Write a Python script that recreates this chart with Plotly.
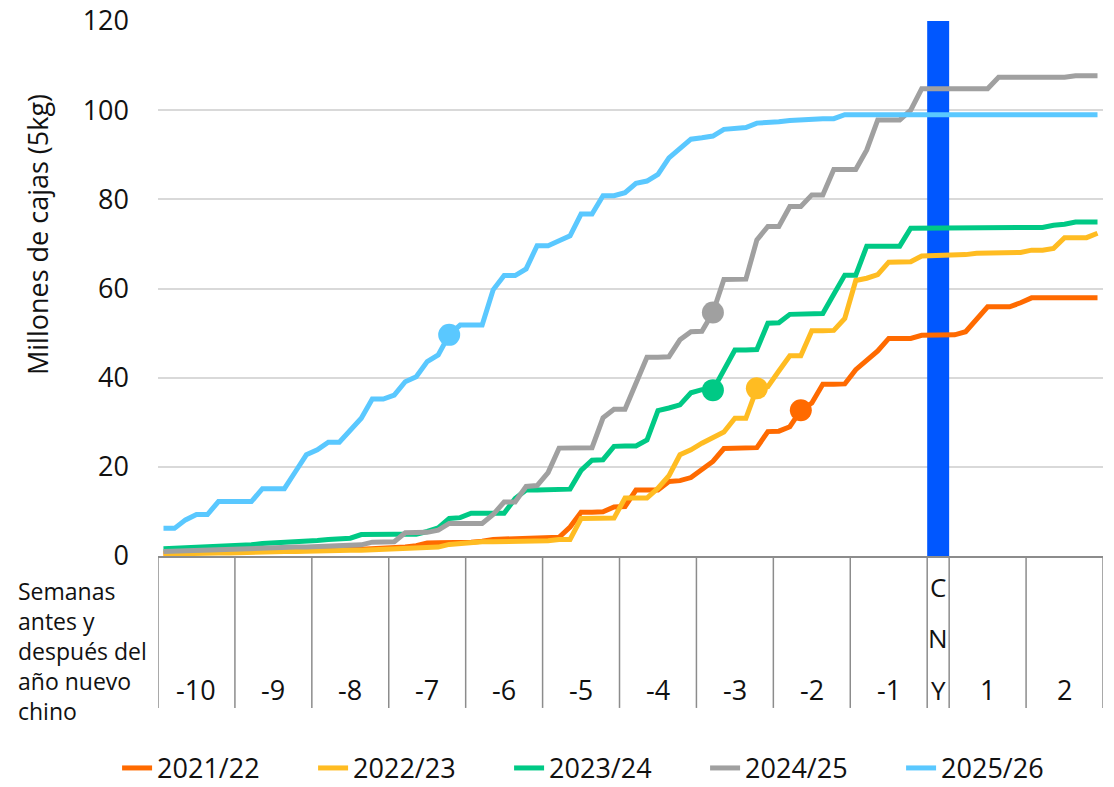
import plotly.graph_objects as go

# ---------------- data ----------------
week_labels = ["-10", "-9", "-8", "-7", "-6", "-5", "-4", "-3", "-2", "-1", "CNY", "1", "2"]
days_per_week = [7, 7, 7, 7, 7, 7, 7, 7, 7, 7, 2, 7, 7]

series_names = ["2021/22", "2022/23", "2023/24", "2024/25", "2025/26"]

s2021_22 = [0.6, 0.7, 0.7, 0.8, 0.8, 0.9, 0.9, 1.0, 1.0, 1.1,
            1.1, 1.2, 1.2, 1.3, 1.3, 1.4, 1.4, 1.5, 1.5, 1.6,
            1.7, 1.8, 2.0, 2.3, 2.9, 3.0, 3.0, 3.1, 3.1, 3.3,
            3.7, 3.8, 3.9, 4.0, 4.0, 4.1, 4.2, 6.5, 9.8, 9.8,
            9.9, 11.0, 11.1, 14.8, 14.8, 14.8, 16.7, 16.9, 17.6, 19.3,
            21.2, 24.1, 24.2, 24.2, 24.3, 27.9, 28.0, 29.0, 32.7, 34.3,
            38.5, 38.5, 38.6, 41.8, 43.8, 46.0, 48.8, 48.8, 48.8, 49.5,
            49.6, 49.6, 49.6, 50.3, 53.3, 55.9, 55.9, 55.9, 56.8, 57.9,
            57.9, 57.9, 57.9, 57.9, 57.9, 57.9]

s2022_23 = [0.4, 0.5, 0.5, 0.6, 0.6, 0.7, 0.7, 0.8, 0.8, 0.9,
            0.9, 1.0, 1.0, 1.1, 1.1, 1.2, 1.2, 1.3, 1.3, 1.4,
            1.4, 1.5, 1.5, 1.6, 1.7, 2.0, 2.6, 2.8, 3.1, 3.2,
            3.2, 3.2, 3.3, 3.3, 3.4, 3.4, 3.7, 3.7, 8.4, 8.5,
            8.5, 8.5, 13.0, 13.0, 13.0, 15.2, 18.0, 22.7, 23.8, 25.3,
            26.7, 27.8, 30.9, 30.9, 37.6, 38.0, 41.5, 44.9, 44.9, 50.5,
            50.5, 50.6, 53.3, 61.8, 62.3, 63.1, 65.9, 66.0, 66.0, 67.3,
            67.4, 67.4, 67.4, 67.6, 67.9, 67.9, 67.9, 67.9, 68.1, 68.6,
            68.6, 69.0, 71.4, 71.4, 71.4, 72.4]

s2023_24 = [1.6, 1.7, 1.8, 1.9, 2.0, 2.1, 2.2, 2.3, 2.5, 2.8,
            2.9, 3.0, 3.1, 3.2, 3.5, 3.7, 3.8, 4.0, 4.8, 4.9,
            4.9, 4.9, 4.9, 4.9, 5.5, 6.3, 8.4, 8.6, 9.6, 9.6,
            9.6, 9.6, 12.9, 14.8, 14.8, 14.8, 14.8, 15.0, 19.2, 21.5,
            21.6, 24.6, 24.7, 24.7, 26.0, 32.6, 33.2, 33.9, 36.6, 37.3,
            37.2, 41.7, 46.2, 46.2, 46.3, 52.2, 52.3, 54.2, 54.2, 54.3,
            54.4, 58.7, 63.0, 63.0, 69.5, 69.5, 69.5, 69.5, 73.5, 73.5,
            73.5, 73.5, 73.5, 73.5, 73.5, 73.5, 73.6, 73.6, 73.6, 73.6,
            73.7, 74.2, 74.4, 74.9, 74.9, 74.9]

s2024_25 = [1.0, 1.1, 1.2, 1.3, 1.4, 1.5, 1.5, 1.6, 1.7, 1.8,
            1.8, 1.9, 2.0, 2.0, 2.1, 2.1, 2.2, 2.3, 2.5, 3.1,
            3.2, 3.2, 5.2, 5.3, 5.3, 5.8, 7.3, 7.3, 7.3, 7.3,
            9.3, 12.1, 12.1, 15.6, 15.8, 18.7, 24.2, 24.2, 24.2, 24.3,
            31.0, 32.9, 32.9, 38.5, 44.6, 44.6, 44.7, 48.5, 50.3, 50.4,
            54.6, 62.0, 62.1, 62.1, 70.9, 73.9, 73.9, 78.4, 78.4, 81.0,
            81.0, 86.7, 86.7, 86.7, 91.1, 97.8, 97.8, 97.8, 100.0, 104.8,
            104.8, 104.8, 104.8, 104.8, 104.8, 104.8, 107.4, 107.4, 107.4, 107.4,
            107.4, 107.4, 107.4, 107.7, 107.7, 107.7]

s2025_26 = [6.2, 6.2, 8.1, 9.3, 9.3, 12.2, 12.2, 12.2, 12.2, 15.1,
            15.1, 15.1, 18.9, 22.7, 23.8, 25.5, 25.5, 28.1, 30.9, 35.2,
            35.2, 36.1, 39.1, 40.2, 43.6, 45.1, 49.6, 51.8, 51.8, 51.8,
            59.7, 62.9, 62.9, 64.4, 69.6, 69.6, 70.7, 71.8, 76.7, 76.7,
            80.8, 80.8, 81.5, 83.6, 84.1, 85.6, 89.3, 91.5, 93.5, 93.8,
            94.2, 95.7, 95.9, 96.1, 97.1, 97.2, 97.4, 97.7, 97.9, 98.1,
            98.1, 98.1, 99.0, 99.0, 99.0, 99.0, 99.0, 99.0, 99.0, 99.0,
            99.0, 99.0, 99.0, 99.0, 99.0, 99.0, 99.0, 99.0, 99.0, 99.0,
            99.0, 99.0, 99.0, 99.0, 99.0, 99.0]

# day index of the highlighted (current-date) point of each season
marker_day = [58, 54, 50, 50, 26]
cny_bar_value = 120

y_title = "Millones de cajas (5kg)"
x_title = "Semanas<br>antes y<br>después del<br>año nuevo<br>chino"

# ---------------- style ----------------
colors = ["#FF6A00", "#FFBC22", "#00C985", "#A0A0A0", "#5AC8FF"]
cny_color = "#0057FF"
FONT = "Open Sans"
TXT = "#111111"

all_series = [s2021_22, s2022_23, s2023_24, s2024_25, s2025_26]
n_days = sum(days_per_week)
day_x = [i + 0.5 for i in range(n_days)]

# group boundaries / centers
bounds = [0]
for d in days_per_week:
    bounds.append(bounds[-1] + d)
centers = [(bounds[k] + bounds[k + 1]) / 2 for k in range(len(days_per_week))]
cny_idx = week_labels.index("CNY")

fig = go.Figure()

fig.add_trace(go.Bar(
    x=[centers[cny_idx]], y=[cny_bar_value], width=[days_per_week[cny_idx]],
    marker=dict(color=cny_color, line=dict(width=0)),
    showlegend=False, hoverinfo="skip"))

for name, vals, col in zip(series_names, all_series, colors):
    fig.add_trace(go.Scatter(
        x=day_x, y=vals, mode="lines", name=name,
        line=dict(color=col, width=5, shape="linear"),
    ))

for name, vals, col, md in zip(series_names, all_series, colors, marker_day):
    fig.add_trace(go.Scatter(
        x=[day_x[md]], y=[vals[md]], mode="markers",
        marker=dict(color=col, size=22),
        showlegend=False, hoverinfo="skip"))

# category separators below the axis
shapes = []
for b in bounds:
    shapes.append(dict(type="line", xref="x", yref="paper", x0=b, x1=b,
                       y0=0, y1=-0.284, line=dict(color="#8C8C8C", width=1.5)))

TICK_SIZE = 27
annotations = []
for k, lab in enumerate(week_labels):
    if lab == "CNY":
        for letter, yy in zip("CNY", [-0.058, -0.153, -0.250]):
            annotations.append(dict(x=centers[k], y=yy, xref="x", yref="paper",
                                    text=letter, showarrow=False,
                                    font=dict(size=TICK_SIZE - 1, color=TXT, family=FONT),
                                    xanchor="center", yanchor="middle"))
    else:
        annotations.append(dict(x=centers[k], y=-0.250, xref="x", yref="paper",
                                text=lab, showarrow=False,
                                font=dict(size=TICK_SIZE, color=TXT, family=FONT),
                                xanchor="center", yanchor="middle"))

annotations.append(dict(x=-0.150, y=-0.178, xref="paper", yref="paper",
                        text=x_title, showarrow=False, align="left",
                        font=dict(size=23, color=TXT, family=FONT),
                        xanchor="left", yanchor="middle"))

annotations.append(dict(x=-0.128, y=0.60, xref="paper", yref="paper",
                        text=y_title, showarrow=False, textangle=-90,
                        font=dict(size=27, color=TXT, family=FONT),
                        xanchor="center", yanchor="middle"))

fig.update_layout(
    width=1114, height=787, autosize=False,
    margin=dict(l=158, r=11, t=21, b=231, autoexpand=False),
    plot_bgcolor="white", paper_bgcolor="white",
    font=dict(family=FONT, color=TXT),
    barmode="overlay",
    shapes=shapes, annotations=annotations,
    xaxis=dict(range=[0, n_days], showgrid=False, zeroline=False,
               showticklabels=False, ticks="", showline=True, automargin=False,
               linecolor="#8C8C8C", linewidth=1.5, fixedrange=True),
    yaxis=dict(range=[0, 120], dtick=20, showgrid=True, gridcolor="#D9D9D9",
               gridwidth=1.5, zeroline=False, showline=False, ticks="",
               automargin=False,
               tickfont=dict(size=TICK_SIZE, color=TXT, family=FONT),
               ticklabelstandoff=28, fixedrange=True),
    legend=dict(orientation="h", xref="paper", yref="paper",
                x=-0.0433, y=-0.397, xanchor="left", yanchor="middle",
                font=dict(size=27, color=TXT, family=FONT),
                entrywidth=151, entrywidthmode="pixels",
                bgcolor="rgba(0,0,0,0)"),
    showlegend=True,
)

fig.write_html("out.html", config={"displayModeBar": False},
               post_script="document.body.style.margin='0';")
